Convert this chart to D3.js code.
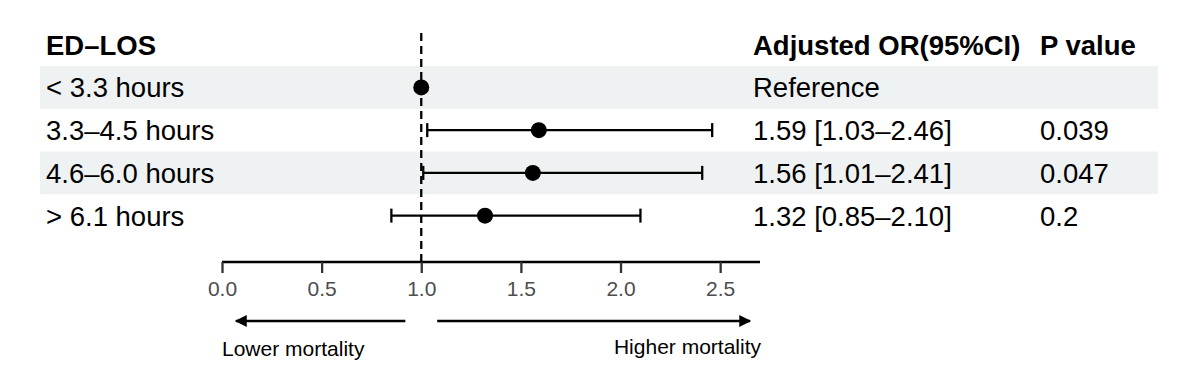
<!DOCTYPE html>
<html><head><meta charset="utf-8">
<script src="https://cdn.jsdelivr.net/npm/d3@7"></script>
<style>body{margin:0;background:#fff}svg{display:block}text{font-family:"Liberation Sans",Arial,sans-serif}</style>
</head><body><svg id="c" width="1200" height="390"></svg>
<script>
const categories = ["< 3.3 hours","3.3\u20134.5 hours","4.6\u20136.0 hours","> 6.1 hours"];
const estimate = [1.00, 1.59, 1.56, 1.32];
const lower = [null, 1.03, 1.01, 0.85];
const upper = [null, 2.46, 2.41, 2.10];
const ciLabels = ["Reference","1.59 [1.03\u20132.46]","1.56 [1.01\u20132.41]","1.32 [0.85\u20132.10]"];
const pLabels = ["","0.039","0.047","0.2"];
const tickValues = [0,0.5,1.0,1.5,2.0,2.5];
const headers = ["ED\u2013LOS","Adjusted OR(95%CI)","P value"];
const arrowLabels = ["Lower mortality","Higher mortality"];

const svg = d3.select("#c");
const x = d3.scaleLinear().domain([0, 2.7]).range([222, 760]);
const y = d3.scaleBand().domain(d3.range(categories.length)).range([66, 237]).paddingInner(0);
const rowFill = "#eff2f2";
const fs = 27.5;

// shaded rows
svg.selectAll("rect.row").data(d3.range(categories.length).filter(i=>i%2===0)).join("rect")
  .attr("x",40).attr("width",1118).attr("y",i=>y(i)).attr("height",y.bandwidth()).attr("fill",rowFill);

// headers
const hy = 55;
svg.append("text").attr("x",46).attr("y",hy).attr("font-size",fs).attr("font-weight","bold").text(headers[0]);
svg.append("text").attr("x",753).attr("y",hy).attr("font-size",fs).attr("font-weight","bold").text(headers[1]);
svg.append("text").attr("x",1040).attr("y",hy).attr("font-size",fs).attr("font-weight","bold").text(headers[2]);

// row labels
const cy = i => y(i)+y.bandwidth()/2;
svg.selectAll("text.lab").data(categories).join("text").attr("x",46).attr("y",(d,i)=>cy(i)+10).attr("font-size",fs).text(d=>d);
svg.selectAll("text.ci").data(ciLabels).join("text").attr("x",753).attr("y",(d,i)=>cy(i)+10).attr("font-size",fs).text(d=>d);
svg.selectAll("text.p").data(pLabels).join("text").attr("x",1040).attr("y",(d,i)=>cy(i)+10).attr("font-size",fs).text(d=>d);

// reference dashed line
svg.append("line").attr("x1",x(1)).attr("x2",x(1)).attr("y1",33).attr("y2",262)
  .attr("stroke","#000").attr("stroke-width",2.3).attr("stroke-dasharray","8,5");

// CI lines
const g = svg.append("g");
d3.range(categories.length).forEach(i=>{
  if(lower[i]!=null){
    g.append("line").attr("x1",x(lower[i])).attr("x2",x(upper[i])).attr("y1",cy(i)).attr("y2",cy(i)).attr("stroke","#000").attr("stroke-width",2.3);
    [lower[i],upper[i]].forEach(v=>g.append("line").attr("x1",x(v)).attr("x2",x(v)).attr("y1",cy(i)-7).attr("y2",cy(i)+7).attr("stroke","#000").attr("stroke-width",2.3));
  }
  g.append("circle").attr("cx",x(estimate[i])).attr("cy",cy(i)).attr("r",8).attr("fill","#000");
});

// axis
const ax = svg.append("g").attr("transform","translate(0,262)")
  .call(d3.axisBottom(x).tickValues(tickValues).tickFormat(d3.format(".1f")).tickSize(11).tickPadding(8));
ax.select(".domain").attr("stroke","#000").attr("stroke-width",2.3).attr("d",`M${x(0)},0H${x(2.7)}`);
ax.selectAll(".tick line").attr("stroke","#333").attr("stroke-width",2.3);
ax.selectAll(".tick text").attr("font-size",21).attr("fill","#4d4d4d").attr("font-family","Liberation Sans, Arial, sans-serif");

// arrows
const defs = svg.append("defs");
defs.append("marker").attr("id","ah").attr("viewBox","0 0 10 10").attr("refX",9).attr("refY",5)
  .attr("markerWidth",18).attr("markerHeight",12).attr("markerUnits","userSpaceOnUse").attr("orient","auto")
  .append("path").attr("d","M0,0L10,5L0,10Z").attr("fill","#000");
const arY = 321;
svg.append("line").attr("x1",x(0.92)).attr("x2",x(0.07)).attr("y1",arY).attr("y2",arY).attr("stroke","#000").attr("stroke-width",2.5)
  .attr("marker-end","url(#ah)");
svg.append("line").attr("x1",x(1.08)).attr("x2",x(2.65)).attr("y1",arY).attr("y2",arY).attr("stroke","#000").attr("stroke-width",2.5)
  .attr("marker-end","url(#ah)");
svg.append("text").attr("x",222).attr("y",356).attr("font-size",21).text(arrowLabels[0]);
svg.append("text").attr("x",761).attr("y",354).attr("font-size",21).attr("text-anchor","end").text(arrowLabels[1]);
</script></body></html>
